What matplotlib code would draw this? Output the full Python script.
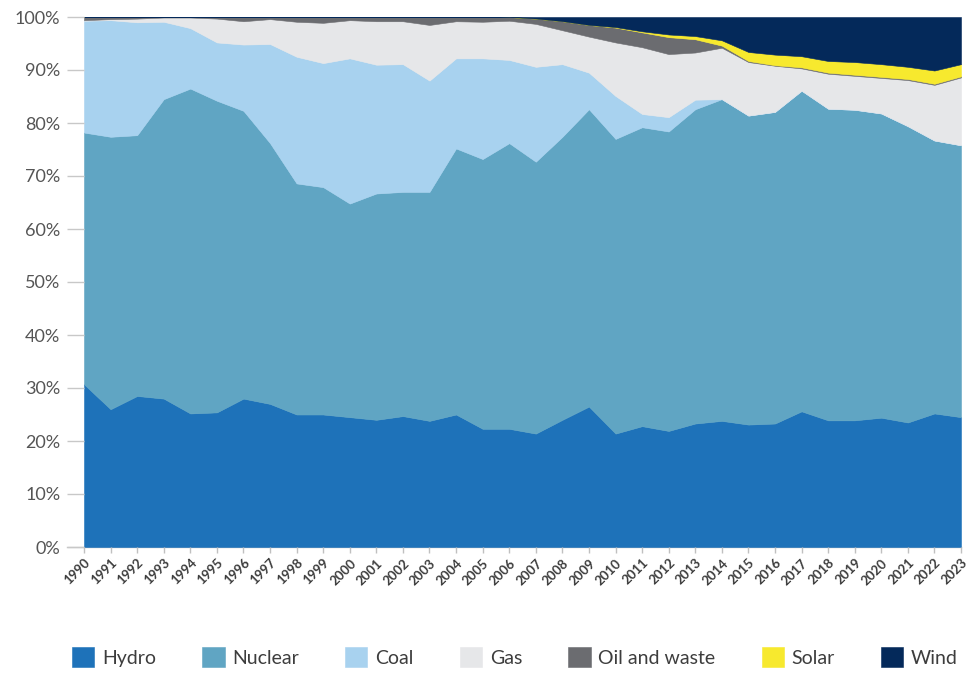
#!/usr/bin/env python3

import numpy as np
import matplotlib
matplotlib.use("Agg")
import matplotlib.pyplot as plt
from matplotlib.ticker import FuncFormatter


years = list(range(1990, 2024))

# generation shares in percent
hydro = [30.7, 26.0, 28.5, 28.0, 25.2, 25.4, 28.0, 27.0, 25.0, 25.0,
         24.5, 24.0, 24.7, 23.8, 25.0, 22.3, 22.3, 21.4, 24.0, 26.5,
         21.4, 22.8, 21.9, 23.3, 23.8, 23.1, 23.3, 25.6, 23.9, 23.9,
         24.4, 23.5, 25.2, 24.5]
nuclear = [47.5, 51.4, 49.2, 56.5, 61.3, 58.8, 54.3, 49.2, 43.6, 42.9,
           40.3, 42.7, 42.3, 43.2, 50.2, 50.9, 53.9, 51.3, 53.4, 56.1,
           55.6, 56.4, 56.5, 59.3, 60.7, 58.3, 58.8, 60.5, 58.8, 58.6,
           57.4, 55.9, 51.5, 51.3]
coal = [21.1, 22.0, 21.3, 14.6, 11.4, 11.0, 12.5, 18.7, 23.9, 23.4,
        27.4, 24.3, 24.1, 21.0, 17.0, 19.0, 15.7, 17.9, 13.7, 6.9,
        8.1, 2.5, 2.7, 1.8, 0.0, 0.0, 0.0, 0.0, 0.0, 0.0,
        0.0, 0.0, 0.0, 0.0]
gas = [0.1, 0.2, 0.7, 0.8, 2.0, 4.5, 4.4, 4.7, 6.6, 7.6,
       7.2, 8.2, 8.1, 10.5, 7.0, 6.9, 7.4, 8.1, 6.4, 6.8,
       10.1, 12.6, 11.9, 8.9, 9.7, 10.1, 8.7, 4.2, 6.6, 6.4,
       6.7, 8.7, 10.5, 12.8]
oil_waste = [0.6, 0.4, 0.3, 0.1, 0.1, 0.3, 0.8, 0.4, 0.9, 1.1,
             0.6, 0.8, 0.8, 1.5, 0.8, 0.9, 0.7, 1.0, 1.7, 2.2,
             2.8, 2.8, 3.2, 2.5, 0.4, 0.2, 0.1, 0.2, 0.2, 0.2,
             0.2, 0.2, 0.2, 0.2]
solar = [0.0] * 20 + [0.1, 0.2, 0.5, 0.6, 1.0, 1.7, 2.0, 2.1, 2.2, 2.4,
                      2.4, 2.3, 2.5, 2.3]
wind = [0.0] * 16 + [0.1, 0.3, 0.8, 1.5, 1.9, 2.7, 3.3, 3.6, 4.4, 6.6,
                     7.1, 7.4, 8.3, 8.5, 8.9, 9.4, 10.1, 8.9]

labels = ["Hydro", "Nuclear", "Coal", "Gas", "Oil and waste", "Solar", "Wind"]
colors = ["#1e72b9", "#60a5c3", "#a8d2ef", "#e6e7e9", "#6b6c70", "#f7e92e", "#04295a"]

plt.rcParams["font.family"] = ["Lato", "DejaVu Sans"]

fig = plt.figure(figsize=(9.71, 6.73), dpi=100)
ax = fig.add_axes([84 / 971, 1 - 547 / 673, 877 / 971, 530 / 673])

ax.stackplot(years, hydro, nuclear, coal, gas, oil_waste, solar, wind,
             labels=labels, colors=colors, linewidth=0.4, edgecolor="face")

ax.set_xlim(1990, 2023)
ax.set_ylim(0, 100)

ax.set_yticks(np.arange(0, 101, 10))
ax.yaxis.set_major_formatter(FuncFormatter(lambda v, _: f"{v:.0f}%"))
ax.tick_params(axis="y", length=12, width=1, color="#c8c8c8", pad=5,
               labelsize=13, labelcolor="#555555")

ax.set_xticks(years)
ax.set_xticklabels([str(y) for y in years], rotation=45, ha="right",
                   rotation_mode="anchor", fontsize=9.5, fontweight="bold",
                   color="#3d3d3d")
ax.tick_params(axis="x", length=4, width=1, color="#c0c0c0", pad=3)

for side in ("top", "right", "left"):
    ax.spines[side].set_visible(False)
ax.spines["bottom"].set_color("#c8c8c8")
ax.spines["bottom"].set_linewidth(1)
ax.spines["bottom"].set_bounds(1990 - 17 / 877 * 33, 2023)
ax.spines["bottom"].set_zorder(0)

handles, hlabels = ax.get_legend_handles_labels()
fig.legend(handles, hlabels, loc="center", ncol=7, mode="expand",
           bbox_to_anchor=(72 / 971, 1 - 670 / 673, 886 / 971, 26 / 673),
           frameon=False, fontsize=14, handlelength=1.15, handleheight=1.15,
           handletextpad=0.4, borderaxespad=0, borderpad=0,
           labelcolor="#3d3d3d")

fig.savefig("out.png", dpi=100)
